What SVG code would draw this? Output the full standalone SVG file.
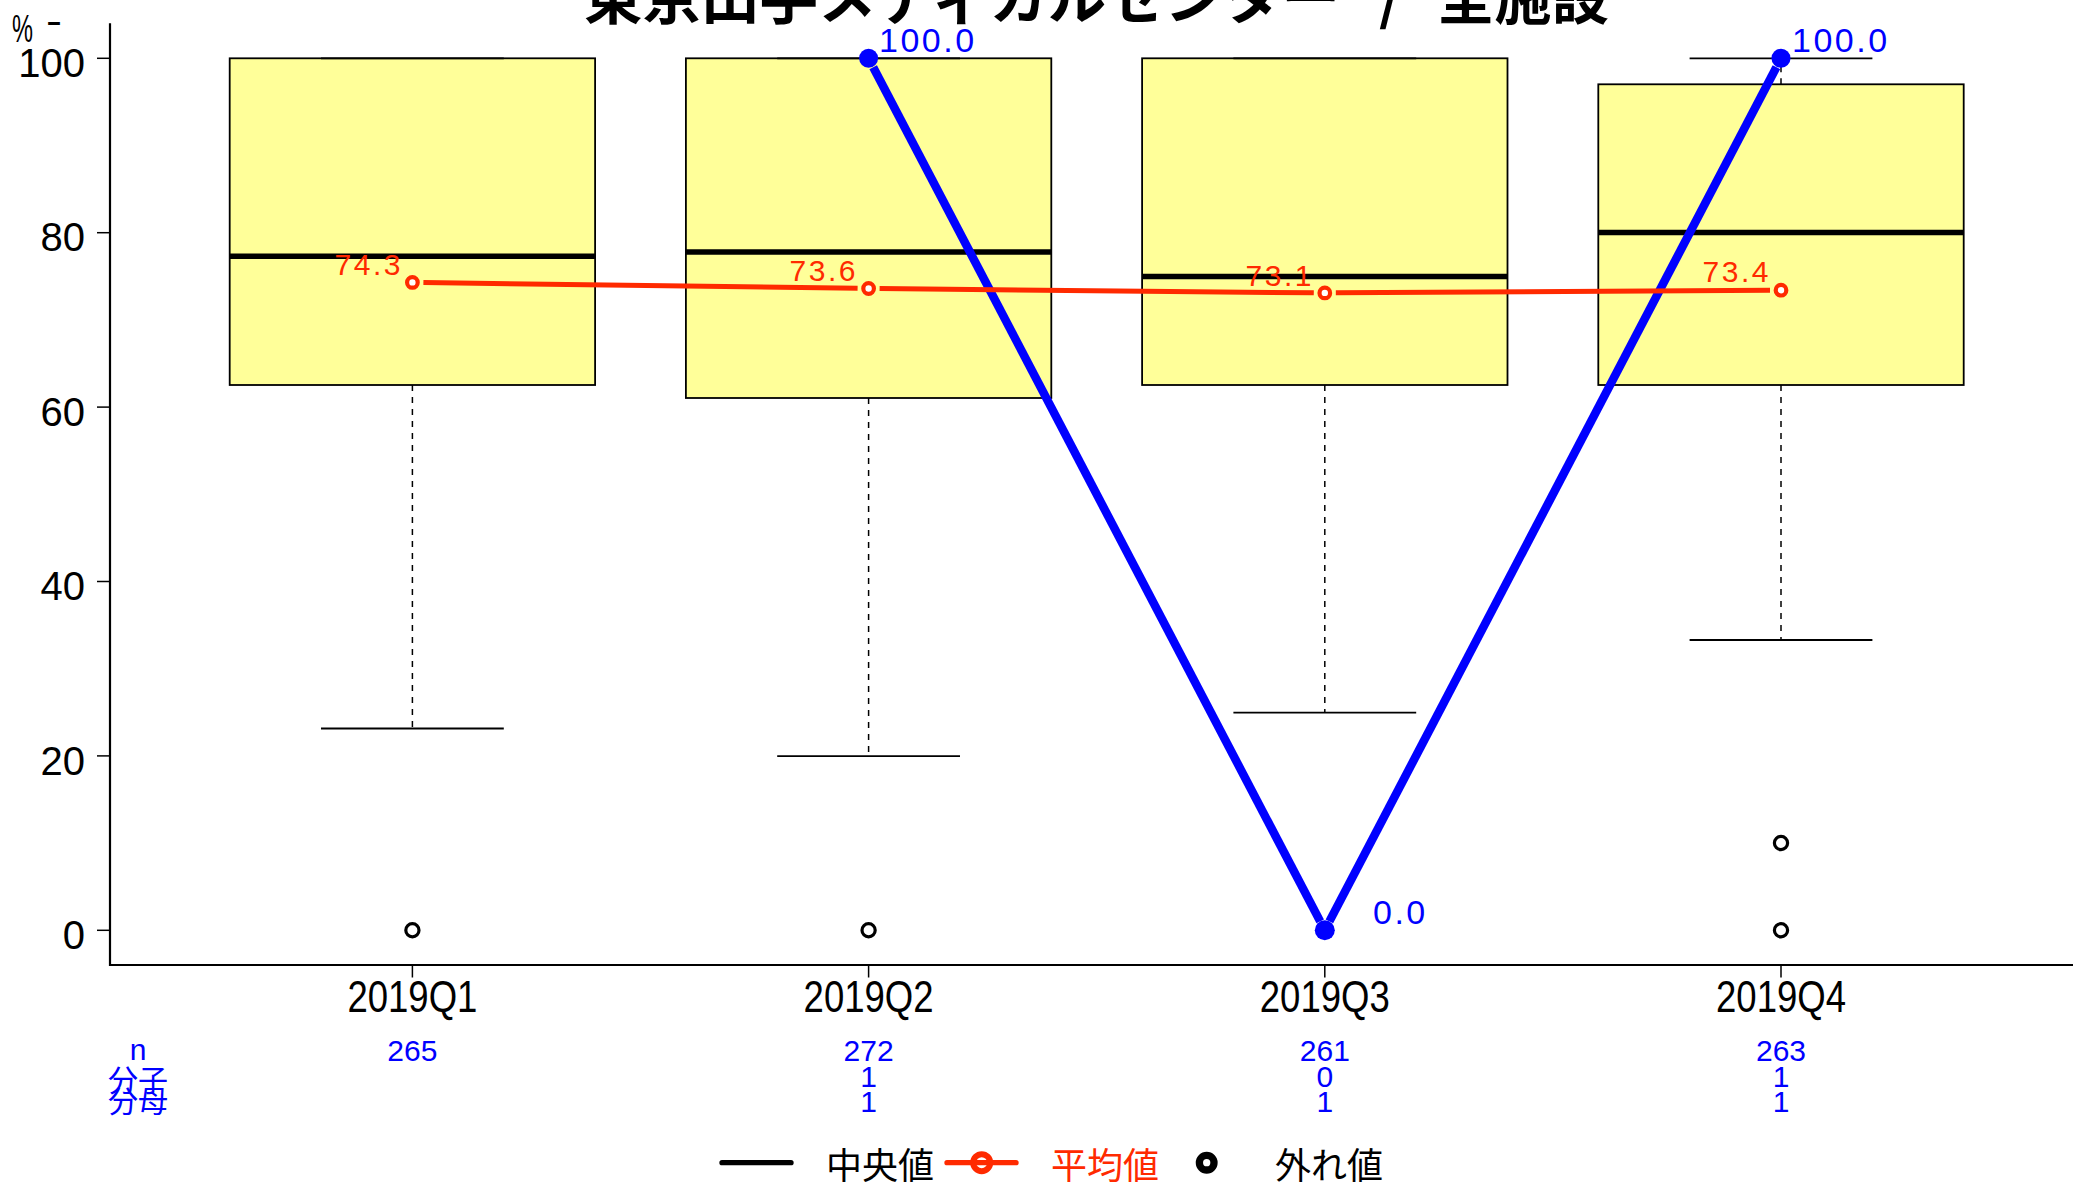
<svg xmlns="http://www.w3.org/2000/svg" width="2073" height="1183" viewBox="0 0 2073 1183">
<style>
text{font-family:"Liberation Sans",Arial,"Noto Sans CJK JP",sans-serif;}
.jp{font-family:"Noto Sans CJK JP","Liberation Sans",sans-serif;}
.title{font-family:"Noto Sans CJK JP",sans-serif;font-size:58px;font-weight:700;fill:#000;}
.ytl{font-size:40px;text-anchor:end;fill:#000;}
.xtl{font-size:44px;text-anchor:middle;fill:#000;}
.cnt{font-size:30px;text-anchor:middle;fill:#0000FF;}
.box{fill:#FFFF99;stroke:#000;stroke-width:1.8;}
.med{stroke:#000;stroke-width:5.5;}
.wh{stroke:#000;stroke-width:1.5;stroke-dasharray:6 6;fill:none;}
.cap{stroke:#000;stroke-width:1.8;}
.out{fill:none;stroke:#000;stroke-width:3.2;}
.axis{stroke:#000;stroke-width:2.2;fill:none;}
.tick{stroke:#000;stroke-width:1.5;}
.mean{stroke:#FF2A00;stroke-width:5;fill:none;}
.meanpt{fill:#fff;stroke:#FF2A00;stroke-width:4.2;}
.meanlab{font-size:30px;fill:#FF2A00;text-anchor:end;letter-spacing:2.5px;}
.rate{stroke:#0000FF;stroke-width:8.5;fill:none;}
.ratept{fill:#0000FF;}
.ratelab{font-size:34px;fill:#0000FF;letter-spacing:2.5px;}
.leg{font-family:"Noto Sans CJK JP",sans-serif;font-size:36px;}
</style>

<g id="title">
<text class="title" y="19"><tspan x="584" textLength="756" lengthAdjust="spacingAndGlyphs">東京山手メディカルセンター</tspan><tspan x="1379">/</tspan><tspan x="1437" textLength="172" lengthAdjust="spacingAndGlyphs">全施設</tspan></text>
</g>

<g id="axes">
<path class="axis" d="M110,23.3 V965 H2073"/>
<line class="tick" x1="97" y1="58.3" x2="110" y2="58.3"/>
<line class="tick" x1="97" y1="232.7" x2="110" y2="232.7"/>
<line class="tick" x1="97" y1="407.1" x2="110" y2="407.1"/>
<line class="tick" x1="97" y1="581.5" x2="110" y2="581.5"/>
<line class="tick" x1="97" y1="755.9" x2="110" y2="755.9"/>
<line class="tick" x1="97" y1="930.3" x2="110" y2="930.3"/>
<text class="ytl" x="85" y="77">100</text>
<text class="ytl" x="85" y="251.4">80</text>
<text class="ytl" x="85" y="425.8">60</text>
<text class="ytl" x="85" y="600.2">40</text>
<text class="ytl" x="85" y="774.6">20</text>
<text class="ytl" x="85" y="949">0</text>
<text x="12" y="42" font-size="38" textLength="21" lengthAdjust="spacingAndGlyphs">%</text>
<text x="46" y="34" font-size="38" textLength="16" lengthAdjust="spacingAndGlyphs">-</text>
<line class="tick" x1="412.4" y1="965" x2="412.4" y2="977.5"/>
<line class="tick" x1="868.6" y1="965" x2="868.6" y2="977.5"/>
<line class="tick" x1="1324.8" y1="965" x2="1324.8" y2="977.5"/>
<line class="tick" x1="1781" y1="965" x2="1781" y2="977.5"/>
<text class="xtl" x="412.4" y="1012" textLength="130" lengthAdjust="spacingAndGlyphs">2019Q1</text>
<text class="xtl" x="868.6" y="1012" textLength="130" lengthAdjust="spacingAndGlyphs">2019Q2</text>
<text class="xtl" x="1324.8" y="1012" textLength="130" lengthAdjust="spacingAndGlyphs">2019Q3</text>
<text class="xtl" x="1781" y="1012" textLength="130" lengthAdjust="spacingAndGlyphs">2019Q4</text>
</g>

<g id="box-Q1">
<line class="wh" x1="412.4" y1="385" x2="412.4" y2="728.5"/>
<line class="cap" x1="321" y1="728.5" x2="503.8" y2="728.5"/>
<rect class="box" x="229.7" y="58.3" width="365.4" height="326.7"/>
<line class="cap" x1="321" y1="58.3" x2="503.8" y2="58.3"/>
<line class="med" x1="229.7" y1="256.2" x2="595.1" y2="256.2"/>
<circle class="out" cx="412.4" cy="930.3" r="6.6"/>
</g>

<g id="box-Q2">
<line class="wh" x1="868.6" y1="398" x2="868.6" y2="756.2"/>
<line class="cap" x1="777.2" y1="756.2" x2="960" y2="756.2"/>
<rect class="box" x="685.9" y="58.3" width="365.4" height="339.7"/>
<line class="cap" x1="777.2" y1="58.3" x2="960" y2="58.3"/>
<line class="med" x1="685.9" y1="252" x2="1051.3" y2="252"/>
<circle class="out" cx="868.6" cy="930.3" r="6.6"/>
</g>

<g id="box-Q3">
<line class="wh" x1="1324.8" y1="385" x2="1324.8" y2="712.6"/>
<line class="cap" x1="1233.4" y1="712.6" x2="1416.2" y2="712.6"/>
<rect class="box" x="1142.1" y="58.3" width="365.4" height="326.7"/>
<line class="cap" x1="1233.4" y1="58.3" x2="1416.2" y2="58.3"/>
<line class="med" x1="1142.1" y1="276.5" x2="1507.5" y2="276.5"/>
</g>

<g id="box-Q4">
<line class="wh" x1="1781" y1="385" x2="1781" y2="640"/>
<line class="cap" x1="1689.6" y1="640" x2="1872.4" y2="640"/>
<line class="wh" x1="1781" y1="84.3" x2="1781" y2="58.3"/>
<line class="cap" x1="1689.6" y1="58.3" x2="1872.4" y2="58.3"/>
<rect class="box" x="1598.3" y="84.3" width="365.4" height="300.7"/>
<line class="med" x1="1598.3" y1="232.5" x2="1963.7" y2="232.5"/>
<circle class="out" cx="1781" cy="930.3" r="6.6"/>
<circle class="out" cx="1781" cy="843" r="6.6"/>
</g>

<g id="connectors">
<g id="rate-line">
<line class="rate" x1="873.2" y1="67.2" x2="1320.2" y2="921.4"/>
<line class="rate" x1="1329.4" y1="921.4" x2="1776.4" y2="67.2"/>
<circle class="ratept" cx="868.6" cy="58.3" r="9.5"/>
<circle class="ratept" cx="1324.8" cy="930.3" r="10"/>
<circle class="ratept" cx="1781" cy="58.3" r="9.5"/>
</g>
<g id="mean-line">
<line class="mean" x1="423.4" y1="282.55" x2="857.6" y2="288.35"/>
<line class="mean" x1="879.6" y1="288.6" x2="1313.8" y2="292.8"/>
<line class="mean" x1="1335.8" y1="292.85" x2="1770" y2="290.25"/>
<circle class="meanpt" cx="412.4" cy="282.4" r="5.3"/>
<circle class="meanpt" cx="868.6" cy="288.5" r="5.3"/>
<circle class="meanpt" cx="1324.8" cy="292.9" r="5.3"/>
<circle class="meanpt" cx="1781" cy="290.2" r="5.3"/>
</g>
</g>

<g id="labels">
<text class="meanlab" x="403" y="275">74.3</text>
<text class="meanlab" x="858" y="281">73.6</text>
<text class="meanlab" x="1314" y="285.5">73.1</text>
<text class="meanlab" x="1771" y="282">73.4</text>
<text class="ratelab" x="879" y="52">100.0</text>
<text class="ratelab" x="1373" y="924">0.0</text>
<text class="ratelab" x="1792" y="52">100.0</text>
</g>

<g id="counts">
<text class="cnt" x="138" y="1060">n</text>
<text class="cnt jp" x="138" y="1091" font-size="32">分子</text>
<text class="cnt jp" x="138" y="1112" font-size="32">分母</text>
<text class="cnt" x="412.4" y="1061">265</text>
<text class="cnt" x="868.6" y="1061">272</text>
<text class="cnt" x="868.6" y="1087">1</text>
<text class="cnt" x="868.6" y="1112">1</text>
<text class="cnt" x="1324.8" y="1061">261</text>
<text class="cnt" x="1324.8" y="1087">0</text>
<text class="cnt" x="1324.8" y="1112">1</text>
<text class="cnt" x="1781" y="1061">263</text>
<text class="cnt" x="1781" y="1087">1</text>
<text class="cnt" x="1781" y="1112">1</text>
</g>

<g id="legend">
<line x1="722" y1="1162.7" x2="791" y2="1162.7" stroke="#000" stroke-width="5.3" stroke-linecap="round"/>
<text class="leg" x="826" y="1179" fill="#000">中央値</text>
<circle cx="981.7" cy="1162.7" r="8.5" fill="#fff" stroke="#FF2A00" stroke-width="6"/>
<line x1="947" y1="1162.7" x2="1016" y2="1162.7" stroke="#FF2A00" stroke-width="5.3" stroke-linecap="round"/>
<text class="leg" x="1051" y="1179" fill="#FF2A00">平均値</text>
<circle cx="1206.7" cy="1162.7" r="7.3" fill="none" stroke="#000" stroke-width="7.3"/>
<text class="leg" x="1275" y="1179" fill="#000">外れ値</text>
</g>
</svg>
